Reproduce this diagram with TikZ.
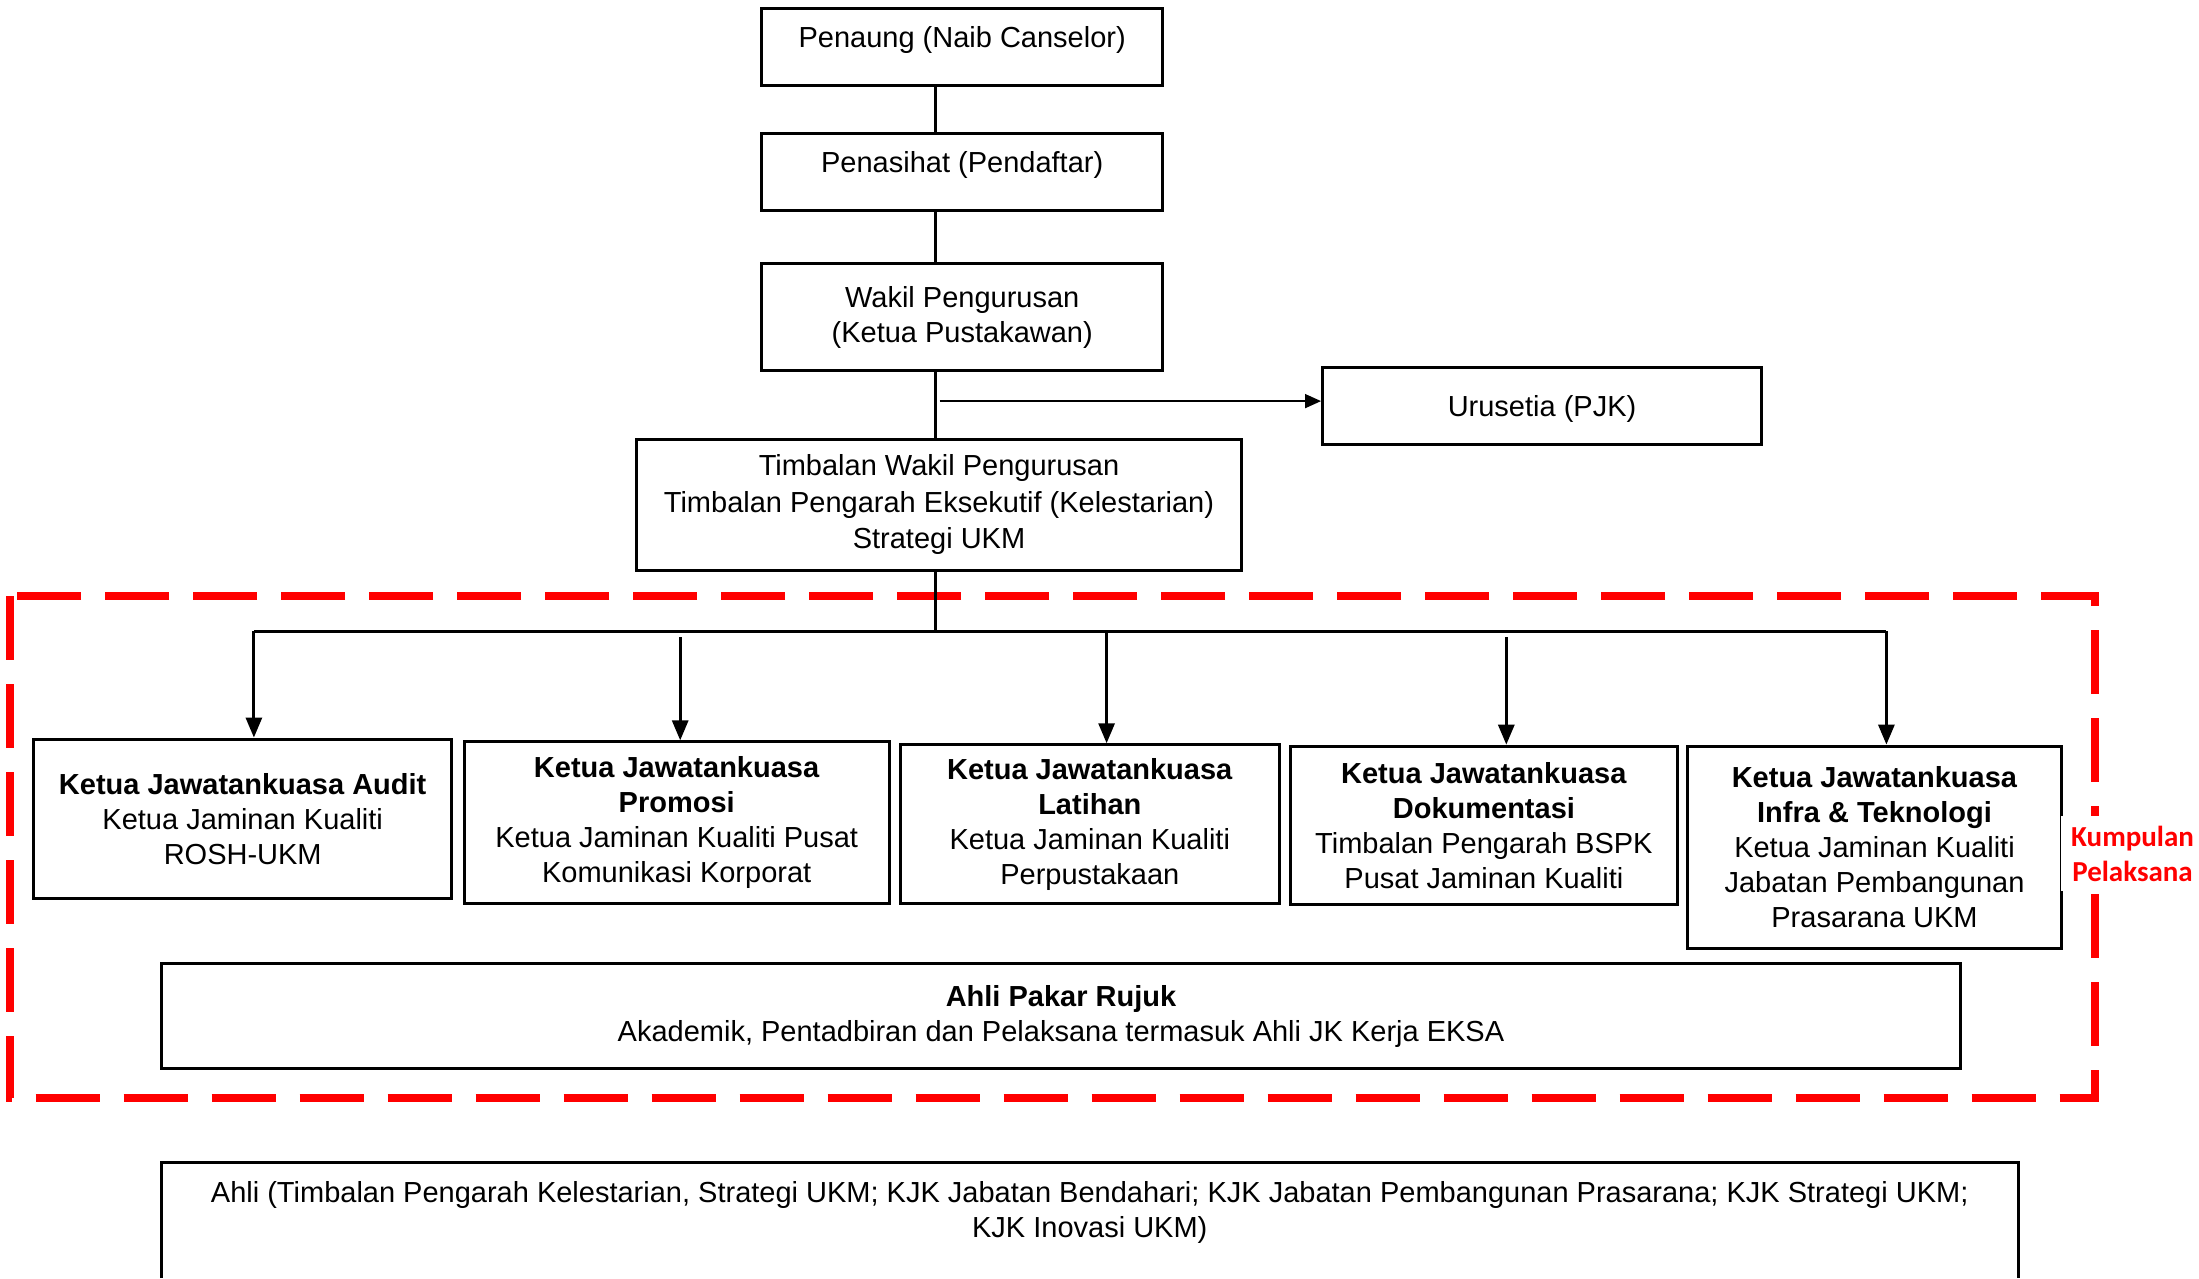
\documentclass[tikz,border=0pt]{standalone}
\usepackage{fontspec}
\setmainfont{Liberation Sans}
\newfontfamily\calibrifont{Carlito}
\usetikzlibrary{arrows.meta}

\begin{document}
\begin{tikzpicture}[x=1pt,y=1pt,yscale=-1,xscale=1,
  orgbox/.style={draw,line width=3pt,inner sep=0pt,align=center,font=\fontsize{29}{35}\selectfont},
  topbox/.style={orgbox,text height=39.5pt,text depth=37.7pt},
  link/.style={line width=3pt},
  drop/.style={line width=3pt,-{Triangle[length=20pt,width=16pt]}},
  sidearrow/.style={line width=1.5pt,-{Triangle[length=16pt,width=14pt]}},
  groupline/.style={draw=red,line width=8pt,dash pattern={on 64pt off 24pt}}]
\useasboundingbox (0,0) rectangle (2199,1278);

%Shape: Rectangle (Kumpulan Pelaksana)
\draw [groupline] (9.8,596) rectangle (2095.3,1098.2);

%Shape: Rectangle
\node [topbox,minimum width=401.1pt] (penaung) at (962.2,47) {Penaung (Naib Canselor)};
%Shape: Rectangle
\node [topbox,minimum width=401.1pt] (penasihat) at (962.2,171.8) {Penasihat (Pendaftar)};
%Shape: Rectangle
\node [orgbox,minimum width=401.1pt,minimum height=106.6pt] (wakil) at (962.2,317) {Wakil Pengurusan\\(Ketua Pustakawan)};
%Shape: Rectangle
\node [orgbox,minimum width=438.9pt,minimum height=77.1pt,text height=24pt,text depth=3pt] (urusetia) at (1542,406) {Urusetia (PJK)};
%Shape: Rectangle
\node [orgbox,minimum width=604.5pt,minimum height=131.8pt,font=\fontsize{29}{36.5}\selectfont] (timbalan) at (939,504.9) {Timbalan Wakil Pengurusan\\Timbalan Pengarah Eksekutif (Kelestarian)\\Strategi UKM};

%Shape: Rectangle
\node [orgbox,minimum width=417.9pt,minimum height=159.9pt] (audit) at (242.7,819) {\textbf{Ketua Jawatankuasa Audit}\\Ketua Jaminan Kualiti\\ROSH-UKM};
%Shape: Rectangle
\node [orgbox,minimum width=425pt,minimum height=161.3pt] (promosi) at (676.7,822.5) {\textbf{Ketua Jawatankuasa}\\\textbf{Promosi}\\Ketua Jaminan Kualiti Pusat\\Komunikasi Korporat};
%Shape: Rectangle
\node [orgbox,minimum width=378.7pt,minimum height=158.5pt] (latihan) at (1089.8,824) {\textbf{Ketua Jawatankuasa}\\\textbf{Latihan}\\Ketua Jaminan Kualiti\\Perpustakaan};
%Shape: Rectangle
\node [orgbox,minimum width=387.1pt,minimum height=158.5pt] (dokumentasi) at (1483.9,825.4) {\textbf{Ketua Jawatankuasa}\\\textbf{Dokumentasi}\\Timbalan Pengarah BSPK\\Pusat Jaminan Kualiti};
%Shape: Rectangle
\node [orgbox,minimum width=374.5pt,minimum height=202pt] (infra) at (1874.5,847.1) {\textbf{Ketua Jawatankuasa}\\\textbf{Infra \& Teknologi}\\Ketua Jaminan Kualiti\\Jabatan Pembangunan\\Prasarana UKM};
%Shape: Rectangle
\node [orgbox,minimum width=1799.4pt,minimum height=105.2pt] (pakar) at (1061,1016.1) {\textbf{Ahli Pakar Rujuk}\\Akademik, Pentadbiran dan Pelaksana termasuk Ahli JK Kerja EKSA};

% Text Node
\node [align=center,text=red,fill=white,inner sep=10pt,font=\calibrifont\bfseries\fontsize{29}{35}\selectfont] (kumpulan) at (2132.5,853.5) {Kumpulan\\Pelaksana};

% Text Node
\node [align=center,font=\fontsize{29}{35}\selectfont] (ahli) at (1089.75,1212.5) {Ahli (Timbalan Pengarah Kelestarian, Strategi UKM; KJK Jabatan Bendahari; KJK Jabatan Pembangunan Prasarana; KJK Strategi UKM;\\KJK Inovasi UKM)};
%Shape: Rectangle (open at the foot of the page)
\draw [link] (161.3,1278) |- (2018.2,1162.7) -- (2018.2,1278);

% spine and bus
\coordinate (sp) at (935.5,0);
\coordinate (uru) at (939.7,401.1);
\coordinate (b1) at (253.9,631.1);
\coordinate (b2) at (680.2,637);
\coordinate (b3) at (1106.6,633);
\coordinate (b4) at (1506.3,637);
\coordinate (b5) at (1886.4,631.1);

\draw [link] (penaung.south -| sp) -- (penasihat.north -| sp);
\draw [link] (penasihat.south -| sp) -- (wakil.north -| sp);
\draw [link] (wakil.south -| sp) -- (timbalan.north -| sp);
\draw [link] (timbalan.south -| sp) -- (b1 -| sp);
\draw [sidearrow] (uru) -- (urusetia.west |- uru);
\draw [link] (b1) -- (b5);

\draw [drop] (b1) -- (b1 |- audit.north);
\draw [drop] (b2) -- (b2 |- promosi.north);
\draw [drop] (b3) -- (b3 |- latihan.north);
\draw [drop] (b4) -- (b4 |- dokumentasi.north);
\draw [drop] (b5) -- (b5 |- infra.north);

\end{tikzpicture}
\end{document}
